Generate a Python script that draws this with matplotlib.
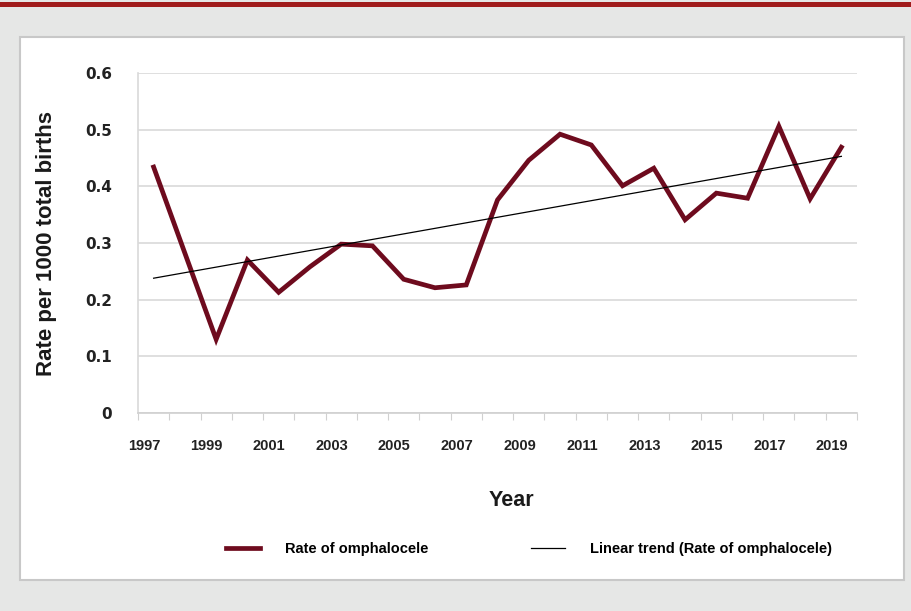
import numpy as np
import matplotlib.pyplot as plt
from matplotlib.patches import Rectangle

years = np.arange(1997, 2020)
rate = [0.434, 0.282, 0.130, 0.270, 0.213, 0.258, 0.298, 0.295, 0.236, 0.221,
        0.226, 0.376, 0.446, 0.492, 0.473, 0.401, 0.432, 0.341, 0.388, 0.379,
        0.506, 0.378, 0.469]
label_years = [1997, 1999, 2001, 2003, 2005, 2007, 2009, 2011, 2013, 2015, 2017, 2019]

plt.rcParams['font.family'] = ['Liberation Sans', 'DejaVu Sans']
plt.rcParams['font.weight'] = 'bold'

fig = plt.figure(figsize=(9.12, 6.11), dpi=100)
fig.patch.set_facecolor('#e6e7e6')

# top red band and white panel
fig.add_artist(Rectangle((0, 1 - 7/611), 1, 5/611, transform=fig.transFigure,
                         facecolor='#a01c1c', edgecolor='none', zorder=-2))
fig.add_artist(Rectangle((20/912, 1 - 580/611), 884/912, 543/611, transform=fig.transFigure,
                         facecolor='white', edgecolor='#c8c8c8', linewidth=1.5, zorder=-2))

ax = fig.add_axes([138/912, 1 - 413/611, 719/912, 340/611])
ax.set_facecolor('none')

ax.plot(years, rate, color='#6e0b1e', linewidth=3.4, solid_joinstyle='miter',
        label='Rate of omphalocele', zorder=3)
coef = np.polyfit(years, rate, 1)
ax.plot(years, np.polyval(coef, years), color='black', linewidth=0.9,
        label='Linear trend (Rate of omphalocele)', zorder=4)

ax.set_xlim(1996.5, 2019.5)
ax.set_ylim(0, 0.6)
ax.set_yticks([0, 0.1, 0.2, 0.3, 0.4, 0.5, 0.6])
ax.set_yticklabels(['0', '0.1', '0.2', '0.3', '0.4', '0.5', '0.6'], fontsize=11,
                   fontweight='bold', family='DejaVu Sans', color='#222222')
ax.yaxis.grid(True, color='#d9d9d9', linewidth=1.2)
ax.set_axisbelow(True)
ax.tick_params(axis='y', length=0, pad=18.5)

ax.set_xticks(np.arange(1996.5, 2020, 1))
ax.set_xticklabels([])
ax.tick_params(axis='x', which='major', length=5, color='#d0d0d0', direction='out')
ax.set_xticks([y - 0.3 for y in label_years], minor=True)
ax.set_xticklabels([str(y) for y in label_years], minor=True, fontsize=10.5,
                   fontweight='bold', color='#222222')
ax.tick_params(axis='x', which='minor', length=0, pad=19)

for s in ['top', 'right']:
    ax.spines[s].set_visible(False)
ax.spines['left'].set_color('#d9d9d9')
ax.spines['bottom'].set_color('#d0d0d0')
ax.spines['left'].set_linewidth(1.2)
ax.spines['bottom'].set_linewidth(1.2)

ax.set_ylabel('Rate per 1000 total births', fontsize=16, fontweight='bold', color='#1a1a1a')
ax.yaxis.set_label_coords(-0.112, 0.5)
ax.set_xlabel('Year', fontsize=15.5, fontweight='bold', color='#1a1a1a')
ax.xaxis.set_label_coords(0.52, -0.225)

handles, labels = ax.get_legend_handles_labels()
fig.legend(handles, labels, loc='center', bbox_to_anchor=(529/912, 1 - 549/611), ncol=2,
           frameon=False, handlelength=2.33, columnspacing=7.1, handletextpad=1.7,
           prop={'weight': 'bold', 'size': 10.5})

fig.savefig('out.png', dpi=100, facecolor=fig.get_facecolor())
